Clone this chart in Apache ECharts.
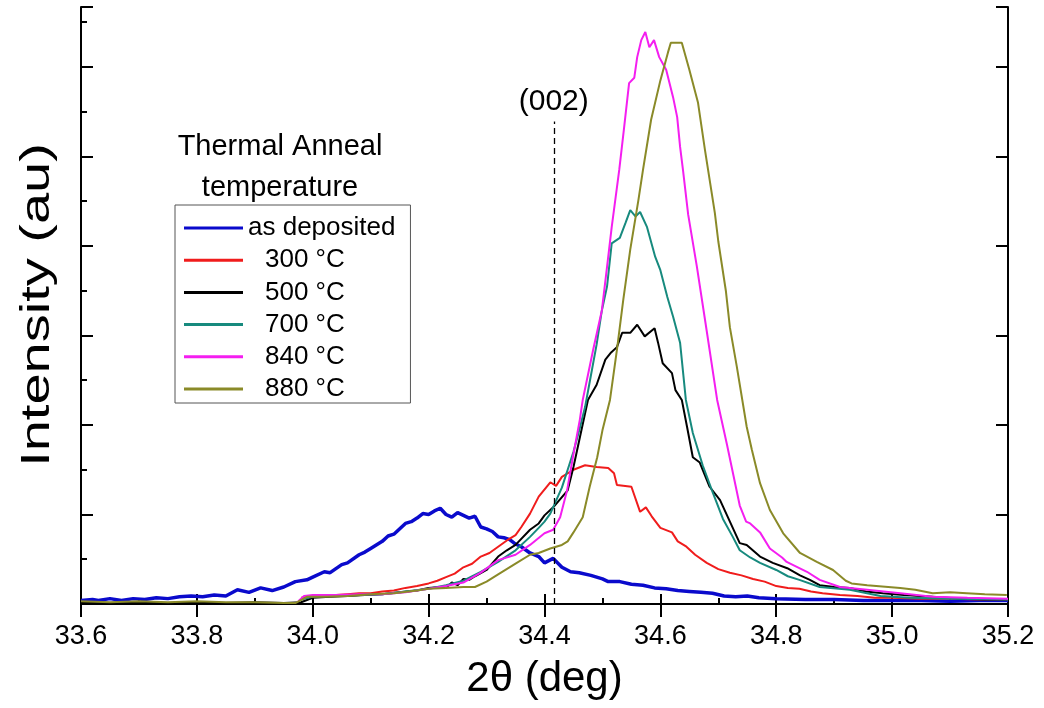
<!DOCTYPE html>
<html>
<head>
<meta charset="utf-8">
<script src="https://cdn.jsdelivr.net/npm/echarts@6/dist/echarts.min.js"></script>
<style>
html,body{margin:0;padding:0;background:#fff;}
#chart{width:1044px;height:708px;}
</style>
</head>
<body>
<div id="chart"></div>
<script>
// ---- data (2θ in deg, intensity in arbitrary units) ----
const seriesNames = ['as deposited', '300 °C', '500 °C', '700 °C', '840 °C', '880 °C'];
const seriesColors = ['#0a0acc', '#f01c1c', '#000000', '#178a7e', '#f41ef0', '#8a8a28'];

const asDeposited = [
  [33.60,0.04],[33.62,0.05],[33.63,0.04],[33.65,0.06],[33.67,0.04],[33.69,0.06],[33.71,0.05],[33.73,0.07],
  [33.75,0.06],[33.77,0.08],[33.79,0.09],[33.81,0.08],[33.83,0.10],[33.85,0.09],[33.87,0.16],[33.89,0.13],
  [33.91,0.18],[33.93,0.15],[33.95,0.19],[33.97,0.25],[33.99,0.27],[34.00,0.30],[34.02,0.36],[34.03,0.35],
  [34.05,0.44],[34.06,0.46],[34.08,0.55],[34.09,0.58],[34.10,0.62],[34.12,0.70],[34.13,0.76],[34.14,0.78],
  [34.16,0.90],[34.17,0.92],[34.18,0.96],[34.19,1.01],[34.20,1.00],[34.21,1.04],[34.22,1.07],[34.23,1.00],
  [34.24,0.97],[34.25,1.02],[34.26,0.99],[34.27,0.96],[34.28,0.98],[34.29,0.86],[34.30,0.84],[34.31,0.81],
  [34.32,0.75],[34.33,0.74],[34.34,0.72],[34.35,0.67],[34.36,0.64],[34.375,0.57],[34.39,0.53],[34.40,0.46],
  [34.415,0.51],[34.43,0.41],[34.445,0.36],[34.46,0.35],[34.48,0.32],[34.50,0.28],[34.51,0.25],[34.53,0.25],
  [34.55,0.22],[34.57,0.21],[34.59,0.18],[34.61,0.17],[34.63,0.15],[34.65,0.14],[34.67,0.13],[34.69,0.12],
  [34.71,0.09],[34.73,0.08],[34.75,0.09],[34.77,0.07],[34.80,0.06],[34.85,0.05],[34.90,0.05],[34.95,0.04],
  [35.00,0.04],[35.05,0.04],[35.10,0.03],[35.15,0.04],[35.20,0.04]
];

const anneal300 = [
  [33.98,0.07],[34.00,0.09],[34.02,0.08],[34.04,0.10],[34.06,0.11],[34.08,0.12],[34.10,0.12],[34.12,0.14],
  [34.14,0.15],[34.16,0.18],[34.18,0.20],[34.20,0.23],[34.215,0.26],[34.23,0.30],[34.245,0.34],[34.26,0.41],
  [34.275,0.45],[34.29,0.53],[34.305,0.57],[34.32,0.64],[34.335,0.71],[34.35,0.77],[34.36,0.86],[34.375,1.01],
  [34.39,1.20],[34.41,1.36],[34.42,1.32],[34.43,1.42],[34.45,1.50],[34.47,1.55],[34.49,1.53],[34.51,1.52],
  [34.52,1.46],[34.525,1.33],[34.55,1.31],[34.565,1.03],[34.575,1.08],[34.585,0.98],[34.60,0.85],[34.62,0.80],
  [34.63,0.70],[34.645,0.64],[34.66,0.55],[34.68,0.46],[34.70,0.39],[34.72,0.35],[34.74,0.32],[34.76,0.28],
  [34.78,0.25],[34.80,0.20],[34.82,0.18],[34.84,0.17],[34.86,0.14],[34.88,0.12],[34.91,0.10],[34.94,0.09],
  [34.97,0.07],[35.00,0.07],[35.05,0.06],[35.10,0.06],[35.15,0.05],[35.20,0.05]
];

const anneal500 = [
  [33.60,0.02],[33.65,0.01],[33.70,0.02],[33.75,0.01],[33.80,0.02],[33.85,0.01],[33.90,0.02],[33.95,0.01],
  [33.98,0.02],[34.00,0.07],[34.03,0.08],[34.06,0.09],[34.09,0.10],[34.12,0.11],[34.15,0.13],[34.18,0.15],
  [34.20,0.18],[34.22,0.19],[34.23,0.18],[34.24,0.24],[34.25,0.21],[34.26,0.28],[34.27,0.27],[34.28,0.31],
  [34.30,0.38],[34.32,0.53],[34.335,0.60],[34.35,0.66],[34.375,0.83],[34.39,0.90],[34.40,0.99],[34.415,1.08],
  [34.44,1.27],[34.45,1.53],[34.46,1.83],[34.475,2.28],[34.49,2.45],[34.505,2.73],[34.515,2.81],[34.525,2.87],
  [34.534,3.03],[34.548,3.03],[34.56,3.12],[34.573,2.99],[34.59,3.08],[34.596,2.92],[34.604,2.69],[34.62,2.58],
  [34.626,2.39],[34.637,2.28],[34.646,1.98],[34.656,1.64],[34.668,1.58],[34.685,1.31],[34.703,1.16],[34.72,0.92],
  [34.737,0.68],[34.749,0.66],[34.772,0.53],[34.794,0.46],[34.819,0.40],[34.841,0.32],[34.858,0.27],[34.875,0.21],
  [34.90,0.19],[34.927,0.18],[34.955,0.14],[34.984,0.12],[35.02,0.10],[35.07,0.08],[35.12,0.06],[35.16,0.05],
  [35.20,0.05]
];

const anneal700 = [
  [33.98,0.05],[34.00,0.08],[34.04,0.09],[34.08,0.10],[34.12,0.11],[34.16,0.14],[34.20,0.17],[34.23,0.21],
  [34.26,0.26],[34.29,0.36],[34.32,0.47],[34.35,0.60],[34.375,0.75],[34.39,0.85],[34.40,0.92],[34.41,1.01],
  [34.43,1.30],[34.44,1.50],[34.45,1.70],[34.46,1.94],[34.47,2.20],[34.48,2.55],[34.49,2.90],[34.499,3.28],
  [34.508,3.55],[34.516,4.03],[34.53,4.09],[34.54,4.26],[34.548,4.40],[34.557,4.33],[34.565,4.38],[34.577,4.21],
  [34.591,3.88],[34.60,3.73],[34.612,3.43],[34.622,3.21],[34.634,2.92],[34.644,2.28],[34.656,1.91],[34.673,1.55],
  [34.689,1.27],[34.708,0.95],[34.725,0.75],[34.737,0.60],[34.755,0.52],[34.772,0.46],[34.80,0.38],[34.82,0.31],
  [34.84,0.27],[34.875,0.19],[34.927,0.16],[34.98,0.09],[35.03,0.07],[35.10,0.06],[35.20,0.05]
];

const anneal840 = [
  [33.975,0.03],[33.985,0.09],[34.00,0.10],[34.04,0.10],[34.08,0.11],[34.12,0.11],[34.16,0.13],[34.20,0.17],
  [34.23,0.20],[34.26,0.24],[34.29,0.35],[34.32,0.49],[34.35,0.55],[34.375,0.66],[34.40,0.79],[34.415,0.83],
  [34.427,0.97],[34.439,1.27],[34.449,1.64],[34.461,2.06],[34.466,2.28],[34.484,2.84],[34.499,3.28],[34.508,3.77],
  [34.516,4.21],[34.529,4.85],[34.537,5.30],[34.546,5.82],[34.555,5.88],[34.56,6.11],[34.567,6.30],[34.574,6.39],
  [34.581,6.22],[34.589,6.30],[34.598,6.11],[34.61,5.97],[34.622,5.66],[34.629,5.44],[34.634,5.11],[34.639,4.85],
  [34.648,4.35],[34.663,3.77],[34.68,3.05],[34.698,2.28],[34.715,1.78],[34.737,1.10],[34.748,0.92],[34.755,0.90],
  [34.772,0.80],[34.789,0.62],[34.81,0.52],[34.818,0.47],[34.853,0.36],[34.875,0.27],[34.91,0.19],[34.957,0.16],
  [35.014,0.12],[35.07,0.08],[35.13,0.07],[35.20,0.06]
];

const anneal880 = [
  [33.60,0.03],[33.65,0.02],[33.70,0.03],[33.75,0.02],[33.80,0.03],[33.85,0.02],[33.90,0.02],[33.95,0.01],
  [33.97,0.01],[33.99,0.08],[34.02,0.08],[34.06,0.09],[34.10,0.11],[34.14,0.12],[34.18,0.15],[34.20,0.17],
  [34.23,0.18],[34.26,0.19],[34.28,0.19],[34.30,0.25],[34.32,0.33],[34.35,0.45],[34.375,0.55],[34.39,0.57],
  [34.41,0.62],[34.43,0.66],[34.44,0.70],[34.45,0.80],[34.466,0.97],[34.478,1.31],[34.491,1.64],[34.50,1.94],
  [34.513,2.28],[34.525,2.84],[34.536,3.40],[34.548,3.96],[34.562,4.51],[34.57,4.85],[34.584,5.41],[34.60,5.85],
  [34.613,6.16],[34.618,6.27],[34.637,6.27],[34.65,5.97],[34.665,5.60],[34.677,5.07],[34.694,4.37],[34.70,4.05],
  [34.713,3.50],[34.72,3.09],[34.732,2.65],[34.749,1.98],[34.758,1.72],[34.772,1.35],[34.789,1.05],[34.812,0.79],
  [34.841,0.57],[34.87,0.47],[34.898,0.38],[34.92,0.26],[34.93,0.23],[34.957,0.21],[35.014,0.18],[35.04,0.16],
  [35.07,0.12],[35.10,0.13],[35.129,0.12],[35.16,0.11],[35.198,0.10]
];

const seriesData = [asDeposited, anneal300, anneal500, anneal700, anneal840, anneal880];
const seriesWidths = [3.5, 2, 2, 2, 2, 2];

const peak002 = 34.416;       // (002) reference position
const peak002Top = 5.39;      // top of dashed marker
const peak002Label = '(002)';
const legendTitle = ['Thermal Anneal', 'temperature'];
const xTitle = '2θ (deg)';
const yTitle = 'Intensity (au)';

const xMin = 33.6, xMax = 35.2, xStep = 0.2;
const yMin = 0, yMax = 6.67, yStep = 1;

const FONT = '"Liberation Sans", Arial, sans-serif';

const chart = echarts.init(document.getElementById('chart'), null, {renderer: 'canvas'});

const series = seriesNames.map((n, i) => ({
  name: n,
  type: 'line',
  data: seriesData[i],
  showSymbol: false,
  symbol: 'none',
  smooth: false,
  lineStyle: {color: seriesColors[i], width: seriesWidths[i]},
  itemStyle: {color: seriesColors[i]},
  emphasis: {disabled: true},
  animation: false
}));

series.push({
  name: peak002Label,
  type: 'line',
  data: [],
  animation: false,
  markLine: {
    silent: true,
    symbol: 'none',
    animation: false,
    lineStyle: {color: '#000', width: 1.3, type: [6, 4]},
    label: {show: true, position: 'end', formatter: peak002Label, fontSize: 30, fontFamily: FONT, color: '#000', distance: 5},
    data: [[{coord: [peak002, 0]}, {coord: [peak002, peak002Top]}]]
  }
});

const axisLineStyle = {color: '#000', width: 2};

const option = {
  backgroundColor: '#fff',
  animation: false,
  grid: {left: 81, right: 36, top: 7, bottom: 104, containLabel: false},
  legend: {
    data: seriesNames,
    orient: 'vertical',
    left: 175,
    top: 205,
    padding: [9, 15, 0, 9],
    itemGap: 4.2,
    itemWidth: 59,
    itemHeight: 3,
    icon: 'rect',
    borderColor: '#555',
    borderWidth: 1,
    borderRadius: 0,
    selectedMode: false,
    textStyle: {fontSize: 26, fontFamily: FONT, color: '#000', lineHeight: 28,
      rich: {ind: {fontSize: 26, fontFamily: FONT, color: '#000', padding: [0, 0, 0, 17], lineHeight: 28}}},
    formatter: function (name) { return name === seriesNames[0] ? name : '{ind|' + name + '}'; }
  },
  graphic: [
    {
      type: 'text', x: 280, y: 126,
      style: {text: legendTitle.join('\n'), textAlign: 'center', textVerticalAlign: 'top',
        font: '29px ' + FONT, fill: '#000', lineHeight: 41}
    },
    {
      type: 'text', x: 38, y: 305, rotation: Math.PI / 2, scaleX: 1.4, scaleY: 1,
      style: {text: yTitle, textAlign: 'center', textVerticalAlign: 'middle',
        font: '40px ' + FONT, fill: '#000'}
    }
  ],
  xAxis: [
    {
      type: 'value', position: 'bottom', min: xMin, max: xMax, interval: xStep,
      name: xTitle, nameLocation: 'middle', nameGap: 54,
      nameTextStyle: {fontSize: 42, fontFamily: FONT, color: '#000'},
      axisLine: {show: true, lineStyle: axisLineStyle},
      axisTick: {show: true, inside: false, length: 13, lineStyle: {color: '#000', width: 2}},
      axisLabel: {show: true, fontSize: 27, fontFamily: FONT, color: '#000', margin: 19,
        formatter: v => v.toFixed(1)},
      splitLine: {show: false}
    },
    {
      type: 'value', position: 'bottom', min: xMin, max: xMax, interval: xStep,
      axisLine: {show: false},
      axisTick: {show: true, inside: true, length: 10, lineStyle: {color: '#000', width: 2}},
      minorTick: {show: true, splitNumber: 2, length: 6, lineStyle: {color: '#000', width: 2}},
      axisLabel: {show: false}, splitLine: {show: false}
    },
    {
      type: 'value', position: 'top', min: xMin, max: xMax, interval: xStep,
      axisLine: {show: true, lineStyle: axisLineStyle},
      axisTick: {show: true, inside: true, length: 10, lineStyle: {color: '#000', width: 2}},
      axisLabel: {show: false}, splitLine: {show: false}
    }
  ],
  yAxis: [
    {
      type: 'value', position: 'left', min: yMin, max: yMax, interval: yStep,
      axisLine: {show: true, lineStyle: axisLineStyle},
      axisTick: {show: true, inside: true, length: 12, lineStyle: {color: '#000', width: 2}},
      axisLabel: {show: false}, splitLine: {show: false}
    },
    {
      type: 'value', position: 'left', min: yMin, max: yMax, interval: yStep / 2,
      axisLine: {show: false},
      axisTick: {show: true, inside: true, length: 6, lineStyle: {color: '#000', width: 2}},
      axisLabel: {show: false}, splitLine: {show: false}
    },
    {
      type: 'value', position: 'right', min: yMin, max: yMax, interval: yStep,
      axisLine: {show: true, lineStyle: axisLineStyle},
      axisTick: {show: true, inside: true, length: 12, lineStyle: {color: '#000', width: 2}},
      axisLabel: {show: false}, splitLine: {show: false}
    }
  ],
  series: series
};

chart.setOption(option);
</script>
</body>
</html>
